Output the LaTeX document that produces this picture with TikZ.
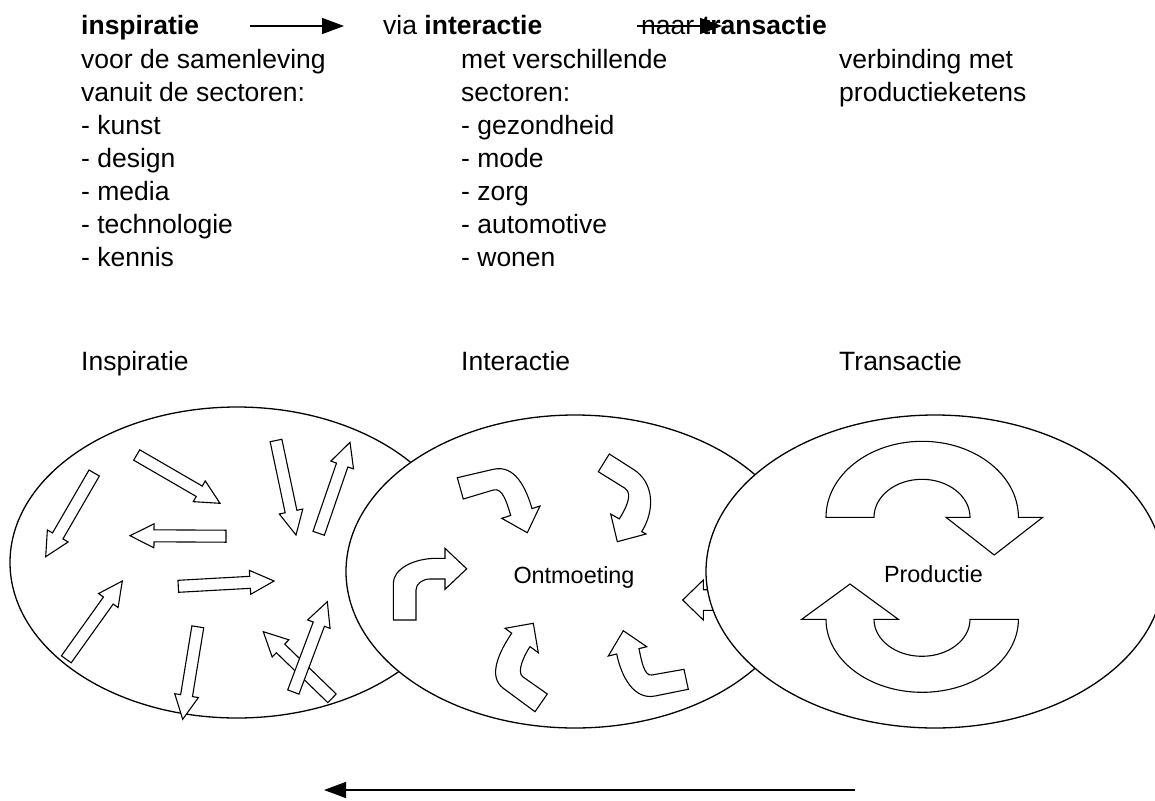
\documentclass[tikz,border=0pt]{standalone}
\usepackage{fontspec}
\setmainfont{Liberation Sans}
\usetikzlibrary{calc,arrows.meta}
\newcommand\topfont{\fontsize{26.5}{33}\selectfont}
\newcommand\midfont{\fontsize{23.4}{28}\selectfont}
\newcommand\blockarr[2]{%
  \coordinate (hb) at ($(#2)!24pt!(#1)$);
  \draw[barrow] ($(#1)!6pt!90:(#2)$) -- ($(hb)!6pt!90:(#2)$) -- ($(hb)!12pt!90:(#2)$) -- (#2)
    -- ($(hb)!12pt!-90:(#2)$) -- ($(hb)!6pt!-90:(#2)$) -- ($(#1)!6pt!-90:(#2)$) -- cycle;}
\begin{document}
\begin{tikzpicture}[x=1pt,y=-1pt,
  txt/.style={inner sep=0pt, anchor=base west, font=\topfont},
  lbl/.style={inner sep=0pt, anchor=base, font=\midfont},
  ell/.style={draw=black, line width=1.3pt, fill=white},
  barrow/.style={draw=black, line width=1.1pt, fill=white, line join=miter},
  arr/.style={line width=1.4pt, -{Triangle[length=22pt,width=16pt]}}]
\useasboundingbox (0,0) rectangle (1155,800);
% ---- top text, column 1
\node[txt] (c1a) at (81,35) {\textbf{inspiratie}};
\node[txt] (c1b) at (81,68) {voor de samenleving};
\node[txt] (c1c) at (81,101) {vanuit de sectoren:};
\node[txt] (c1d) at (81,134) {- kunst};
\node[txt] (c1e) at (81,167) {- design};
\node[txt] (c1f) at (81,200) {- media};
\node[txt] (c1g) at (81,233) {- technologie};
\node[txt] (c1h) at (81,266) {- kennis};
% ---- column 2
\node[txt] (c2a) at (383,35) {via \textbf{interactie}};
\node[txt] (c2b) at (461,68) {met verschillende};
\node[txt] (c2c) at (461,101) {sectoren:};
\node[txt] (c2d) at (461,134) {- gezondheid};
\node[txt] (c2e) at (461,167) {- mode};
\node[txt] (c2f) at (461,200) {- zorg};
\node[txt] (c2g) at (461,233) {- automotive};
\node[txt] (c2h) at (461,266) {- wonen};
% ---- column 3
\node[txt] (c3a) at (641,35) {naar \textbf{transactie}};
\node[txt] (c3b) at (839,68) {verbinding met};
\node[txt] (c3c) at (839,101) {productieketens};
% ---- top arrows
\coordinate (t1s) at (250,26);
\coordinate (t1e) at (344,26);
\coordinate (t2s) at (637,26);
\coordinate (t2e) at (722,26);
\draw[arr] (t1s) -- (t1e);
\draw[arr] (t2s) -- (t2e);
% ---- labels row
\node[txt] (l1) at (81,370) {Inspiratie};
\node[txt] (l2) at (461,370) {Interactie};
\node[txt] (l3) at (839,370) {Transactie};
% ---- left ellipse
\draw[ell] (237,562.5) ellipse [x radius=227pt, y radius=155.5pt];
\coordinate (a1t) at (94.2,473);   \coordinate (a1h) at (45.7,556.7);
\coordinate (a2t) at (136.7,455);  \coordinate (a2h) at (220,503.3);
\coordinate (a3t) at (226,536.2);  \coordinate (a3h) at (130,535.7);
\coordinate (a4t) at (276,440.5);  \coordinate (a4h) at (296,535);
\coordinate (a5t) at (318.7,533.3);\coordinate (a5h) at (350,442.3);
\coordinate (a6t) at (178.3,586.3);\coordinate (a6h) at (274,581);
\coordinate (a7t) at (66.3,659.3); \coordinate (a7h) at (122.3,581);
\coordinate (a8t) at (197.8,626.8);\coordinate (a8h) at (182.7,719.3);
\coordinate (a9t) at (332,698.3);  \coordinate (a9h) at (263.3,631.7);
\coordinate (a10t) at (293.3,692); \coordinate (a10h) at (327.3,601.7);
\blockarr{a1t}{a1h}
\blockarr{a2t}{a2h}
\blockarr{a3t}{a3h}
\blockarr{a4t}{a4h}
\blockarr{a5t}{a5h}
\blockarr{a6t}{a6h}
\blockarr{a7t}{a7h}
\blockarr{a8t}{a8h}
\blockarr{a9t}{a9h}
\blockarr{a10t}{a10h}
% ---- middle ellipse
\draw[ell] (575,571.5) ellipse [x radius=229pt, y radius=156.5pt];
\node[lbl] (ontm) at (574,583) {Ontmoeting};
% bent arrow (left)
\draw[barrow] (393.3,620) -- (393.3,583.3) arc[start angle=180, end angle=90, x radius=43.4pt, y radius=25pt]
  -- (445,558.3) -- (445,548.3) -- (466.7,568.8) -- (445,589.3) -- (445,579) -- (430,579)
  arc[start angle=90, end angle=180, x radius=14pt, y radius=11pt] -- (416,620) -- cycle;
% curved arrow top-left
\draw[barrow] (457.3,477.7) -- (493.3,469.3) .. controls (515,464.3) and (526,488) .. (532,508.6)
  -- (540,506) -- (527.3,532.7) -- (501.7,518.3) -- (510.7,515.4)
  .. controls (507.1,504) and (502.9,487.1) .. (493.3,490) -- (463.3,499) -- cycle;
% curved arrow top-right
\draw[barrow] (609.3,454) -- (633.3,469.3) .. controls (654.4,482.7) and (655,510.4) .. (641.7,531.6)
  -- (646,534) -- (617.3,541.7) -- (610.7,514) -- (619.3,518.9)
  .. controls (625.7,508.7) and (633.4,493.7) .. (625,488.3) -- (598.3,471.7) -- cycle;
% curved arrow bottom-left
\draw[barrow] (535,711.7) -- (503.3,688.3) .. controls (487.2,676.4) and (499.4,651.4) .. (511.7,633.2)
  -- (505,628.3) -- (533.3,623.3) -- (538.3,652.7) -- (530,646.6)
  .. controls (524.4,654.9) and (516.3,671.9) .. (522.7,676.7) -- (547.3,694) -- cycle;
% curved arrow bottom-right
\draw[barrow] (688.3,689.3) -- (655,696) .. controls (633.4,700.3) and (621.1,675.6) .. (616.7,654)
  -- (608.3,656) -- (623.3,630.7) -- (646.7,646.7) -- (639,648.6)
  .. controls (641,658.4) and (643.9,676.6) .. (651.7,675) -- (684,669.3) -- cycle;
% partly hidden arrow (right)
\draw[barrow] (760,589.7) -- (703.3,589.7) -- (703.3,580) -- (682.7,600) -- (703.3,620)
  -- (703.3,610.3) -- (760,610.3) -- cycle;
% ---- right ellipse
\draw[ell] (935,571.5) ellipse [x radius=229pt, y radius=156.5pt];
\node[lbl] (prod) at (933.5,582) {Productie};
\draw[barrow] (826,517.3) arc[start angle=180, end angle=0, x radius=96.2pt, y radius=76pt]
  -- (1042.7,517.3) -- (994.2,555) -- (946,517.3) -- (970,517.3)
  arc[start angle=0, end angle=180, x radius=48pt, y radius=38pt] -- cycle;
\draw[barrow] (1018.4,619.3) arc[start angle=0, end angle=-180, x radius=96.2pt, y radius=73pt]
  -- (801.7,619.3) -- (850,584) -- (898.3,619.3) -- (874,619.3)
  arc[start angle=180, end angle=360, x radius=48pt, y radius=37pt] -- cycle;
% ---- bottom arrow
\coordinate (bs) at (855,790);
\coordinate (be) at (324,790);
\draw[arr] (bs) -- (be);
\end{tikzpicture}
\end{document}
